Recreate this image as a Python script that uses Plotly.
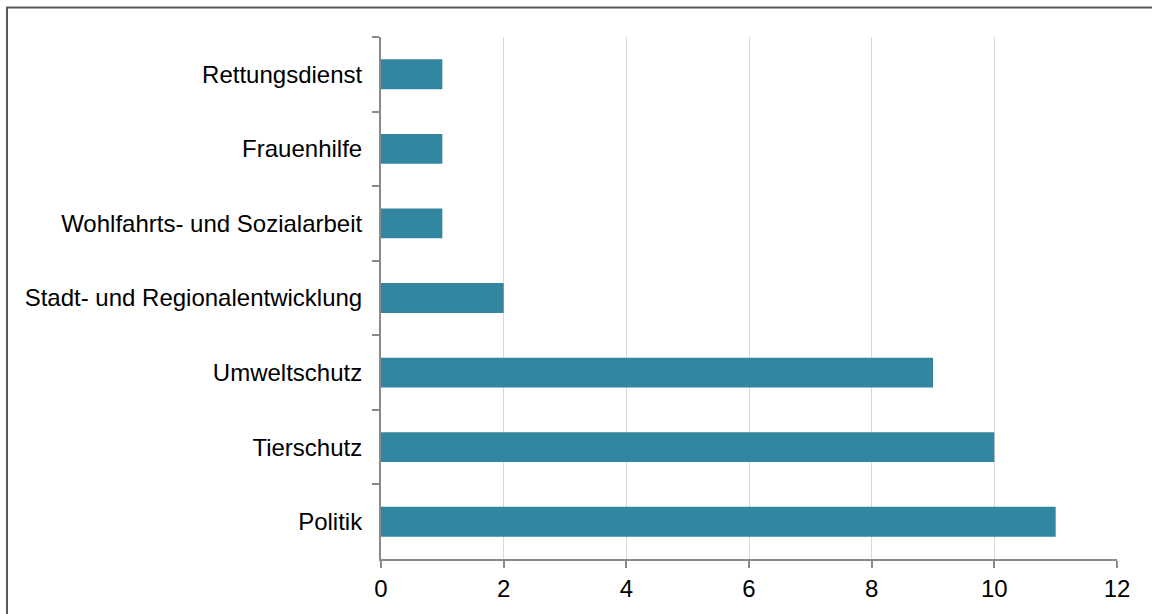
import plotly.graph_objects as go

categories = ["Rettungsdienst", "Frauenhilfe", "Wohlfahrts- und Sozialarbeit",
              "Stadt- und Regionalentwicklung", "Umweltschutz", "Tierschutz", "Politik"]
values = [1, 1, 1, 2, 9, 10, 11]
x_ticks = [0, 2, 4, 6, 8, 10, 12]

W, H = 1152, 614
L, R, T, B = 381, 35, 37, 55
pw, ph = W - L - R, H - T - B

fig = go.Figure(go.Bar(
    x=values, y=categories, orientation="h",
    marker=dict(color="#33869f", line=dict(width=0)),
    width=0.4,
))

axis_col = "#8a8a8a"
font = dict(family="Liberation Sans, Arial, sans-serif", size=24, color="#000000")

fig.update_layout(
    width=W, height=H,
    margin=dict(l=L, r=R, t=T, b=B),
    paper_bgcolor="white", plot_bgcolor="white",
    font=font,
    showlegend=False,
    xaxis=dict(
        range=[0, 12], tickvals=x_ticks, ticktext=[str(v) for v in x_ticks],
        showgrid=True, gridcolor="#d9d9d9", gridwidth=1,
        zeroline=False, showline=True, linecolor=axis_col, linewidth=2,
        ticks="outside", ticklen=7, tickcolor=axis_col, tickwidth=2,
        tickfont=font, fixedrange=True,
    ),
    yaxis=dict(
        categoryorder="array", categoryarray=categories, autorange="reversed",
        showgrid=False, zeroline=False, showline=True, linecolor=axis_col, linewidth=2,
        ticks="outside", tickson="boundaries", ticklen=7, tickcolor=axis_col, tickwidth=2,
        ticklabelstandoff=12,
        tickfont=font, fixedrange=True,
    ),
    shapes=[dict(
        type="rect", xref="paper", yref="paper",
        x0=(7 - L) / pw, x1=1.5,
        y0=-0.5, y1=(H - B - 7.5) / ph,
        line=dict(color="#595959", width=2), fillcolor="rgba(0,0,0,0)",
        layer="above",
    )],
)

fig.write_html("out.html")
